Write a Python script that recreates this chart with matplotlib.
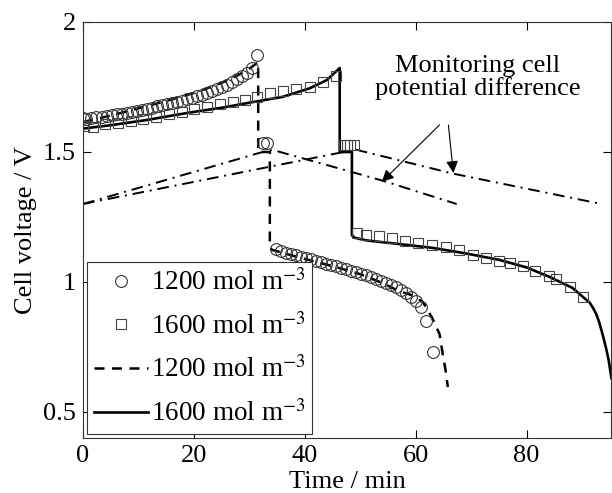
import numpy as np
import matplotlib.pyplot as plt
from matplotlib.lines import Line2D

plt.rcParams['font.family'] = 'Liberation Serif'
plt.rcParams['mathtext.fontset'] = 'stix'

# experiment, 1200 mol m-3 (circles)
t_exp1200 = [0.0, 0.6, 1.5, 2.4, 3.4, 4.3, 5.2, 6.1, 7.0, 7.9, 8.8, 9.7, 10.6, 11.5,
             12.4, 13.3, 14.2, 15.1, 16.0, 16.9, 17.8, 18.7, 19.6, 20.5, 21.4, 22.3,
             23.2, 24.1, 25.0, 25.9, 26.8, 27.7, 28.6, 29.5, 30.4, 31.3,
             32.4, 33.2,
             34.9, 35.7, 36.6, 37.5, 38.4, 39.3, 40.2, 41.1, 42.0, 42.9, 43.8, 44.7,
             45.6, 46.5, 47.4, 48.3, 49.2, 50.1, 51.0, 51.9, 52.8, 53.7, 54.6, 55.5,
             56.4, 57.3, 58.2, 59.1, 60.0, 60.9, 61.9, 63.2]
v_exp1200 = [1.630, 1.625, 1.632, 1.634, 1.636, 1.639, 1.642, 1.645, 1.648, 1.651, 1.655,
             1.659, 1.663, 1.667, 1.671, 1.675, 1.679, 1.684, 1.688, 1.693, 1.698,
             1.703, 1.709, 1.715, 1.721, 1.727, 1.734, 1.741, 1.749, 1.758, 1.768,
             1.779, 1.791, 1.805, 1.822, 1.873,
             1.535, 1.535,
             1.125, 1.118, 1.112, 1.107, 1.102, 1.097, 1.092, 1.087, 1.081, 1.076,
             1.071, 1.066, 1.060, 1.055, 1.049, 1.043, 1.037, 1.031, 1.025, 1.019,
             1.012, 1.005, 0.998, 0.990, 0.981, 0.971, 0.958, 0.944, 0.927, 0.905,
             0.850, 0.730]

# experiment, 1600 mol m-3 (squares)
t_exp1600 = [0.2, 1.8, 4.0, 6.3, 8.6, 10.9, 13.2, 15.5, 17.8, 20.1, 22.4, 24.7, 27.0,
             29.3, 31.3, 33.7, 36.0, 38.5, 40.9, 43.3, 45.7,
             47.0, 47.6, 48.2, 48.8,
             49.4, 51.1, 53.4, 55.8, 58.1, 60.5, 62.9, 65.4, 67.8, 70.3, 72.7, 75.0,
             77.1, 79.3, 81.6, 84.0, 85.4, 87.8, 90.1]
v_exp1600 = [1.600, 1.598, 1.606, 1.612, 1.620, 1.628, 1.636, 1.645, 1.655, 1.664,
             1.673, 1.683, 1.692, 1.700, 1.712, 1.727, 1.735, 1.742, 1.750, 1.770,
             1.792,
             1.527, 1.527, 1.527, 1.527,
             1.190, 1.180, 1.178, 1.170, 1.158, 1.150, 1.142, 1.135, 1.122, 1.102,
             1.094, 1.082, 1.073, 1.062, 1.044, 1.024, 1.012, 0.980, 0.942]

# model, 1200 mol m-3 (dashed)
t_mod1200 = [0.0, 5.0, 10.0, 15.0, 20.0, 25.0, 28.0, 30.0, 31.6,
             31.6, 33.7, 33.7, 34.2, 38.0, 42.1, 46.0, 50.0, 54.0, 57.0,
             59.5, 61.3, 62.9, 64.3, 64.9, 65.4, 65.8]
v_mod1200 = [1.615, 1.640, 1.668, 1.696, 1.727, 1.766, 1.796, 1.820, 1.846,
             1.500, 1.500, 1.130, 1.123, 1.100, 1.077, 1.055, 1.030, 0.996, 0.965,
             0.948, 0.923, 0.865, 0.800, 0.720, 0.660, 0.596]

# model, 1600 mol m-3 (solid)
t_mod1600 = [0.0, 5.0, 11.5, 19.3, 25.0, 30.1, 36.0, 40.9, 44.0, 46.3,
             46.3, 48.5, 48.5, 49.0, 51.1, 57.0, 63.1, 69.0, 75.1, 80.0, 84.1,
             88.3, 91.4, 92.0, 92.6, 93.1, 93.5, 94.0, 94.4, 94.8, 95.1, 95.3]
v_mod1600 = [1.590, 1.603, 1.623, 1.652, 1.670, 1.690, 1.712, 1.745, 1.777, 1.823,
             1.500, 1.500, 1.180, 1.170, 1.160, 1.146, 1.131, 1.110, 1.085, 1.056,
             1.020, 0.977, 0.920, 0.900, 0.875, 0.845, 0.815, 0.775, 0.740, 0.700,
             0.660, 0.630]

# monitoring cell potential difference (dash-dot)
t_mon1200 = [0.0, 31.9, 34.2, 54.0, 67.4]
v_mon1200 = [1.300, 1.497, 1.508, 1.390, 1.300]
t_mon1600 = [0.0, 46.3, 49.4, 66.7, 93.5]
v_mon1600 = [1.300, 1.497, 1.508, 1.417, 1.300]

fs = 19

fig = plt.figure(figsize=(6.12, 4.93), dpi=100)
ax = fig.add_axes([0.1356, 0.1116, 0.8634, 0.8438])

ax.plot(t_mon1200, v_mon1200, color='black', linestyle=(0, (6, 3, 1, 3)), linewidth=1.4)
ax.plot(t_mon1600, v_mon1600, color='black', linestyle=(0, (6, 3, 1, 3)), linewidth=1.4)
ax.plot(t_mod1200, v_mod1200, color='black', linestyle=(0, (4, 3)), linewidth=1.8)
ax.plot(t_mod1600, v_mod1600, color='black', linestyle='-', linewidth=1.9)
ax.plot(t_exp1200, v_exp1200, linestyle='none', marker='o', markersize=8.5,
        markerfacecolor='none', markeredgecolor='#333333', markeredgewidth=0.8)
ax.plot(t_exp1600, v_exp1600, linestyle='none', marker='s', markersize=7.5,
        markerfacecolor='none', markeredgecolor='#444444', markeredgewidth=0.8)

# annotation with two arrows
ax.text(71.2, 1.785, 'Monitoring cell\npotential difference', fontsize=fs,
        ha='center', va='center', linespacing=1.0)
ax.annotate('', xy=(53.9, 1.385), xytext=(64.3, 1.604),
            arrowprops=dict(arrowstyle='-|>', color='black', lw=0.8,
                            mutation_scale=18, shrinkA=0, shrinkB=0))
ax.annotate('', xy=(66.8, 1.419), xytext=(65.9, 1.604),
            arrowprops=dict(arrowstyle='-|>', color='black', lw=0.8,
                            mutation_scale=18, shrinkA=0, shrinkB=0))

ax.set_xlim(0, 95.3)
ax.set_ylim(0.4, 2.0)
ax.set_xticks([0, 20, 40, 60, 80])
ax.set_yticks([0.5, 1, 1.5, 2])
ax.set_yticklabels(['0.5', '1', '1.5', '2'])
ax.tick_params(direction='in', top=True, right=True, length=6, width=0.8,
               labelsize=fs, pad=5)
for s in ax.spines.values():
    s.set_linewidth(0.8)
    s.set_color('#333333')
ax.set_xlabel('Time / min', fontsize=fs, labelpad=3)
ax.set_ylabel('Cell voltage / V', fontsize=fs, labelpad=4)

lab = '1200 mol m$^{-3}$'
lab2 = '1600 mol m$^{-3}$'
handles = [
    Line2D([], [], linestyle='none', marker='o', markersize=8.5, markerfacecolor='none',
           markeredgecolor='#333333', markeredgewidth=0.8),
    Line2D([], [], linestyle='none', marker='s', markersize=7.5, markerfacecolor='none',
           markeredgecolor='#444444', markeredgewidth=0.8),
    Line2D([], [], color='black', linestyle=(0, (4, 3)), linewidth=1.8),
    Line2D([], [], color='black', linestyle='-', linewidth=1.9),
]
leg = ax.legend(handles, [lab, lab2, lab, lab2], loc='lower left', fontsize=19.5,
                fancybox=False, framealpha=1, edgecolor='#333333', handlelength=2.0,
                handletextpad=0.1, labelspacing=0.62, borderaxespad=0.15,
                borderpad=0.25)
leg.get_frame().set_linewidth(0.8)

fig.savefig('out.png', dpi=100)
